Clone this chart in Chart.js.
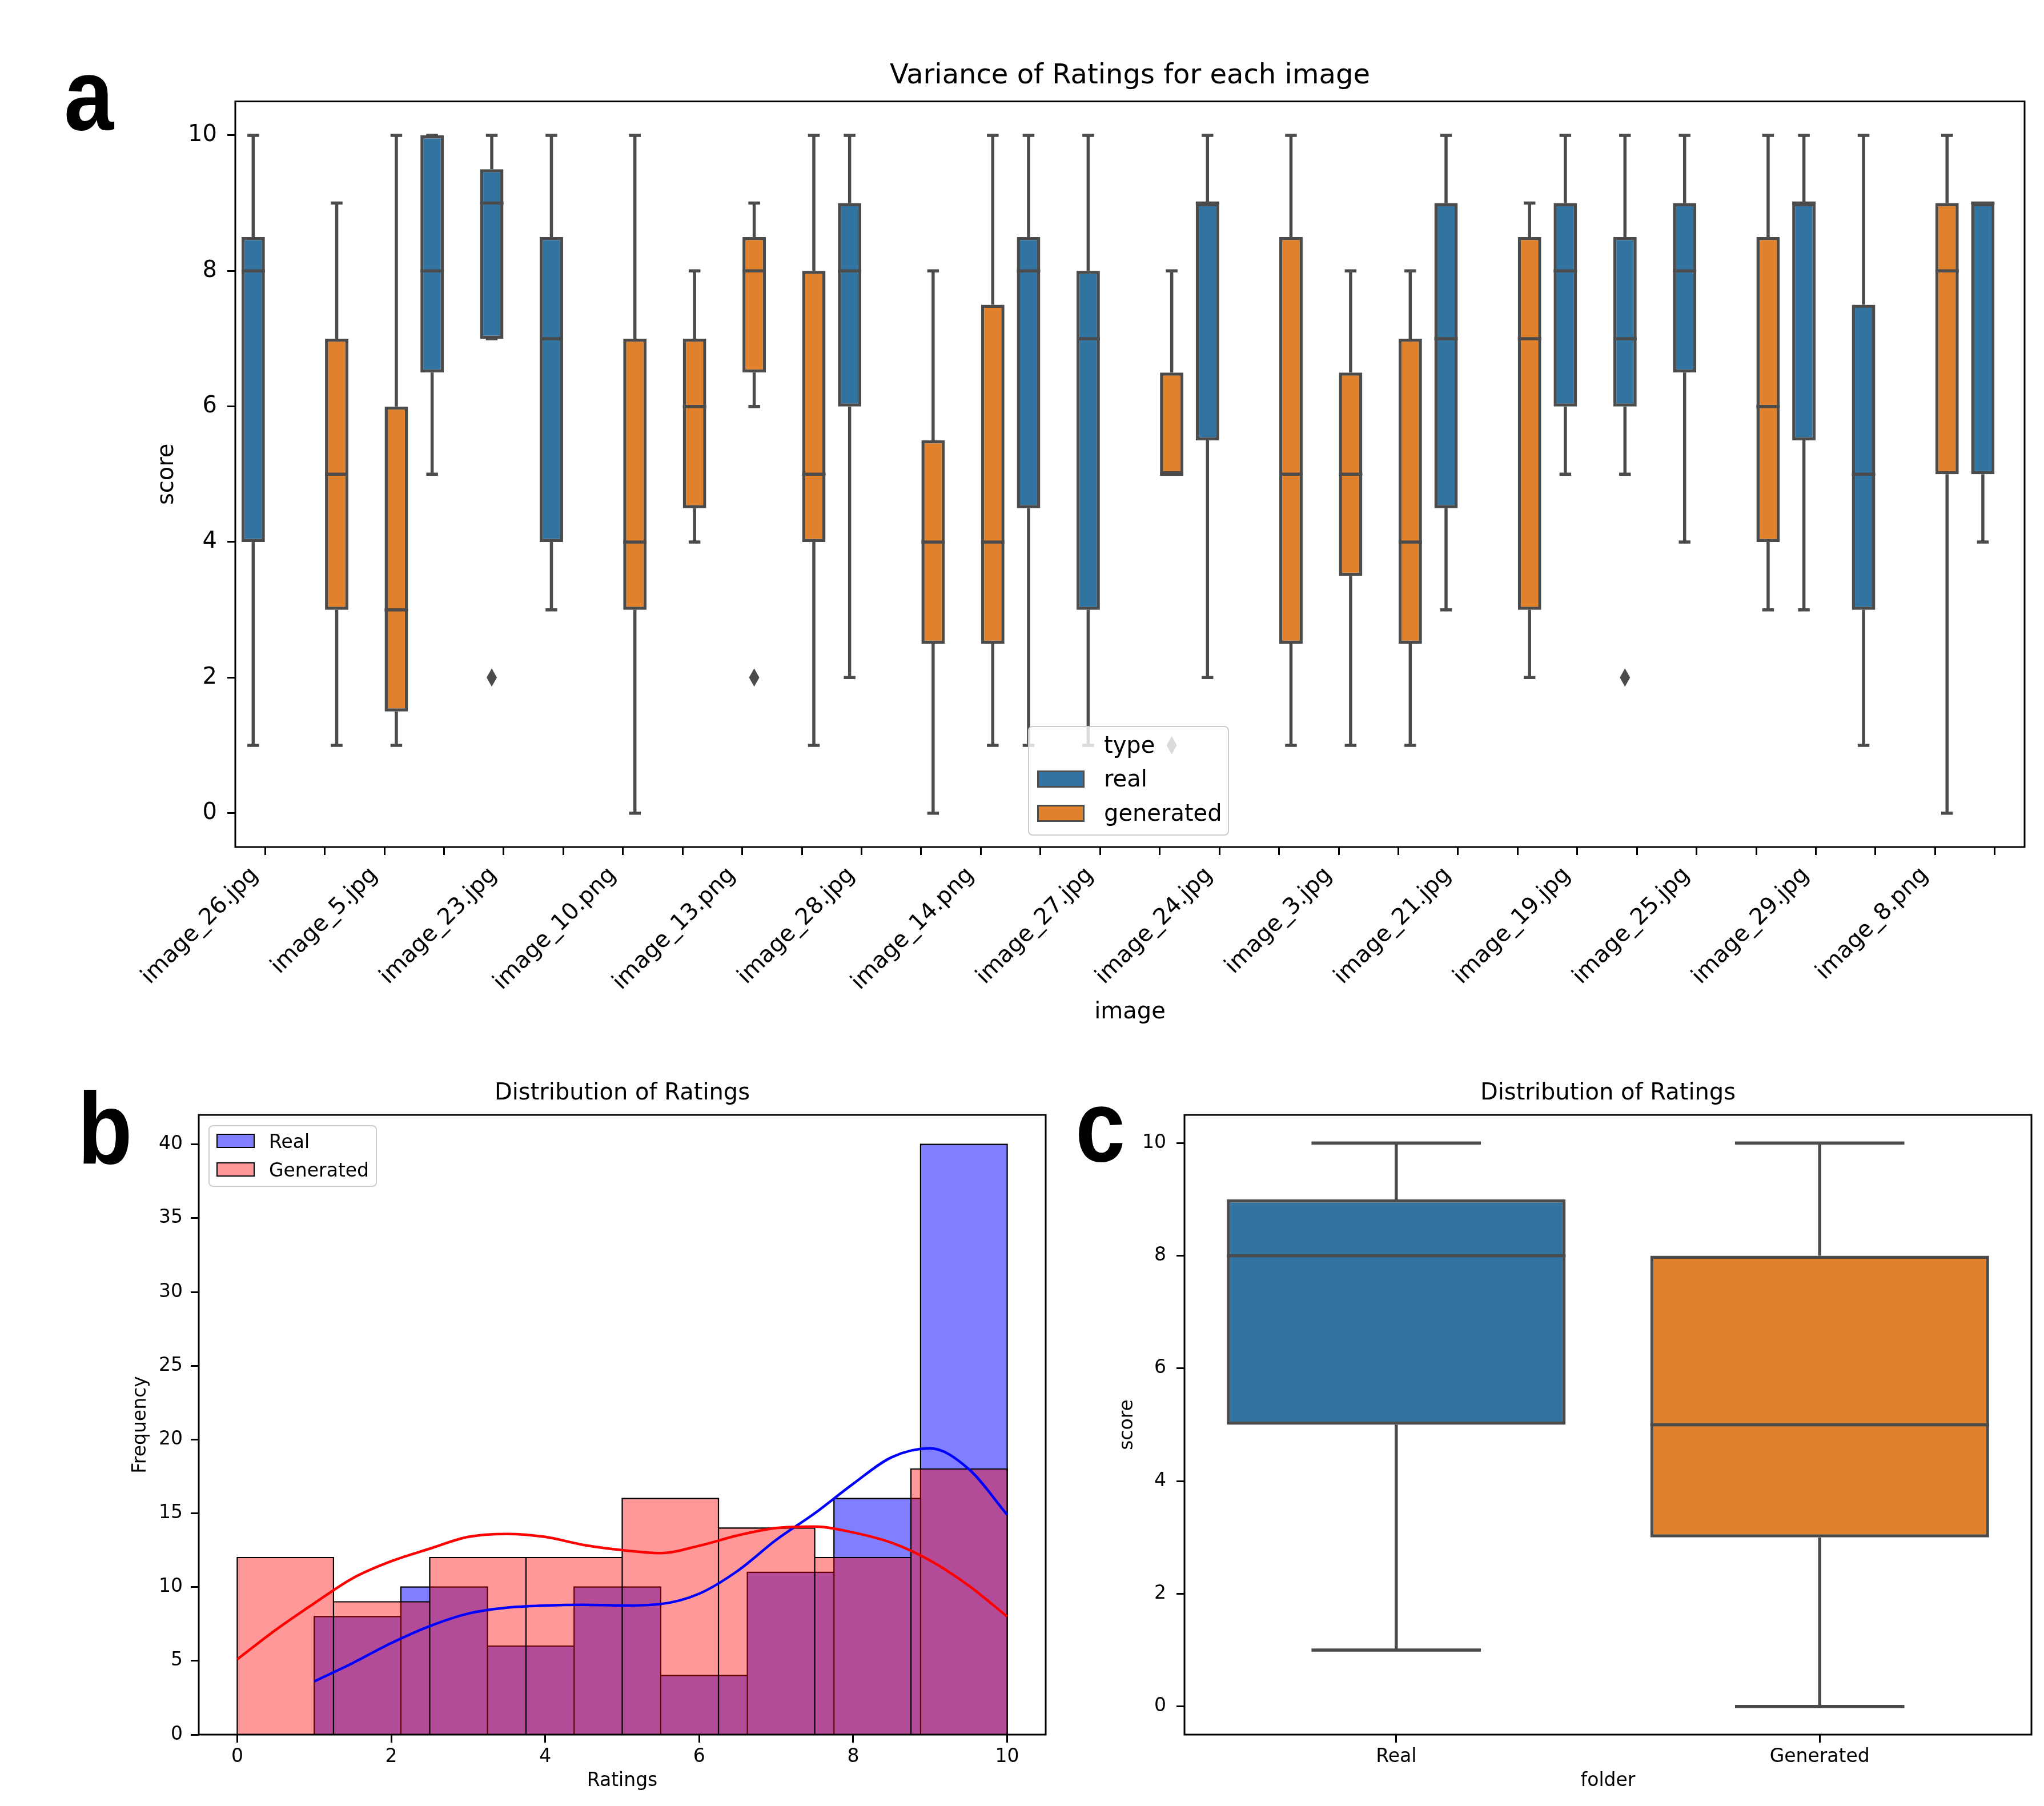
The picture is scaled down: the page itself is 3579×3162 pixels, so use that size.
<!DOCTYPE html>
<html>
<head>
<meta charset="UTF-8">
<title>Ratings figure</title>
<script src="https://cdn.jsdelivr.net/npm/chart.js@4"></script>
<style>
  body { margin: 0; background: #fff; font-family: 'DejaVu Sans', sans-serif; }
  #page { position: relative; width: 3579px; height: 3162px; overflow: hidden; background: #fff; }
  canvas { position: absolute; }
  .letter { position: absolute; font-family: 'Liberation Sans', Arial, sans-serif; font-weight: bold;
            font-size: 178px; line-height: 1; transform: scaleX(0.88); transform-origin: left top; color: #000; }
  .legend { position: absolute; background: rgba(255,255,255,0.8); border: 2px solid #cccccc;
            border-radius: 8px; box-sizing: border-box; }
  .legend span { position: absolute; white-space: nowrap; line-height: 1; color: #000; }
  .legend .sw { box-sizing: border-box; }
</style>
</head>
<body>
<div id="page">
  <canvas id="chartA" width="3579" height="1850" style="left:0;top:0"></canvas>
  <canvas id="chartB" width="1870" height="1312" style="left:0;top:1850px"></canvas>
  <canvas id="chartC" width="1709" height="1312" style="left:1870px;top:1850px"></canvas>

  <div class="letter" style="left:112px;top:77px">a</div>
  <div class="letter" style="left:136px;top:1887px">b</div>
  <div class="letter" style="left:1883px;top:1883px">c</div>

  <div class="legend" style="left:1800px;top:1271px;width:352px;height:192px;font-size:40px">
    <span style="left:131px;top:11px">type</span>
    <span class="sw" style="left:14px;top:76px;width:83px;height:30px;background:#3274a1;border:3px solid #4b4b4b"></span>
    <span style="left:131px;top:70px">real</span>
    <span class="sw" style="left:14px;top:136px;width:83px;height:30px;background:#e1812c;border:3px solid #4b4b4b"></span>
    <span style="left:131px;top:130px">generated</span>
  </div>

  <div class="legend" style="left:365px;top:1970px;width:295px;height:108px;font-size:33px">
    <span class="sw" style="left:12px;top:13px;width:67px;height:25px;background:rgba(0,0,255,0.5);border:2px solid #000"></span>
    <span style="left:104px;top:10px">Real</span>
    <span class="sw" style="left:12px;top:63px;width:67px;height:25px;background:rgba(255,0,0,0.4);border:2px solid #000"></span>
    <span style="left:104px;top:60px">Generated</span>
  </div>
</div>

<script>
// ---- panel a : one box per image, coloured by type ----
const imageLabels = ['image_26.jpg', '', 'image_5.jpg', '', 'image_23.jpg', '', 'image_10.png', '',
  'image_13.png', '', 'image_28.jpg', '', 'image_14.png', '', 'image_27.jpg', '', 'image_24.jpg', '',
  'image_3.jpg', '', 'image_21.jpg', '', 'image_19.jpg', '', 'image_25.jpg', '', 'image_29.jpg', '',
  'image_8.png', ''];
const imageType = ['real', 'generated', 'generated', 'real', 'real', 'real', 'generated', 'generated',
  'generated', 'generated', 'real', 'generated', 'generated', 'real', 'real', 'generated', 'real',
  'generated', 'generated', 'generated', 'real', 'generated', 'real', 'real', 'real', 'generated',
  'real', 'real', 'generated', 'real'];
const whiskerLow  = [1, 1, 1, 5, 7, 3, 0, 4, 6, 1, 2, 0, 1, 1, 1, 5, 2, 1, 1, 1, 3, 2, 5, 5, 4, 3, 3, 1, 0, 4];
const quart1      = [4, 3, 1.5, 6.5, 7, 4, 3, 4.5, 6.5, 4, 6, 2.5, 2.5, 4.5, 3, 5, 5.5, 2.5, 3.5, 2.5, 4.5, 3, 6, 6, 6.5, 4, 5.5, 3, 5, 5];
const medians     = [8, 5, 3, 8, 9, 7, 4, 6, 8, 5, 8, 4, 4, 8, 7, 5, 9, 5, 5, 4, 7, 7, 8, 7, 8, 6, 9, 5, 8, 9];
const quart3      = [8.5, 7, 6, 10, 9.5, 8.5, 7, 7, 8.5, 8, 9, 5.5, 7.5, 8.5, 8, 6.5, 9, 8.5, 6.5, 7, 9, 8.5, 9, 8.5, 9, 8.5, 9, 7.5, 9, 9];
const whiskerHigh = [10, 9, 10, 10, 10, 10, 10, 8, 9, 10, 10, 8, 10, 10, 10, 8, 10, 10, 8, 8, 10, 9, 10, 10, 10, 10, 10, 10, 10, 9];
const fliers = [[], [], [], [], [2], [], [], [], [2], [], [], [], [], [], [], [1], [], [], [], [], [], [], [], [2], [], [], [], [], [], []];
const scoreTicks = [0, 2, 4, 6, 8, 10];

// ---- panel b : histograms + kde ----
const realEdges  = [1, 2.125, 3.25, 4.375, 5.5, 6.625, 7.75, 8.875, 10];
const realCounts = [8, 10, 6, 10, 4, 11, 16, 40];
const genEdges   = [0, 1.25, 2.5, 3.75, 5, 6.25, 7.5, 8.75, 10];
const genCounts  = [12, 9, 12, 12, 16, 14, 12, 18];
const kdeRealX = [1, 1.5, 2, 2.5, 3, 3.5, 4, 4.5, 5, 5.5, 6, 6.5, 7, 7.5, 8, 8.5, 9, 9.5, 10];
const kdeRealY = [3.6, 4.85, 6.2, 7.35, 8.2, 8.6, 8.75, 8.8, 8.75, 8.85, 9.55, 11.1, 13.2, 15.0, 17.0, 18.8, 19.4, 18.0, 14.9];
const kdeGenX = [0, 0.5, 1, 1.5, 2, 2.5, 3, 3.5, 4, 4.5, 5, 5.5, 6, 6.5, 7, 7.5, 8, 8.5, 9, 9.5, 10];
const kdeGenY = [5.1, 7.1, 8.9, 10.6, 11.75, 12.6, 13.4, 13.6, 13.4, 12.85, 12.5, 12.3, 12.8, 13.5, 14.0, 14.1, 13.7, 13.0, 11.8, 10.1, 8.0];
const ratingTicks = [0, 2, 4, 6, 8, 10];
const freqTicks = [0, 5, 10, 15, 20, 25, 30, 35, 40];

// ---- panel c : overall boxes per folder ----
const folders      = ['Real', 'Generated'];
const folderLow    = [1, 0];
const folderQ1     = [5, 3];
const folderMedian = [8, 5];
const folderQ3     = [9, 8];
const folderHigh   = [10, 10];
const folderFliers = [[], []];

const realBlue = '#3274a1';
const genOrange = '#e1812c';
const edgeGray = '#4b4b4b';

Chart.defaults.font.family = "'DejaVu Sans', sans-serif";
Chart.defaults.color = '#000';

// whiskers, caps, medians and fliers on top of the floating bars
const boxParts = {
  id: 'boxParts',
  afterDatasetsDraw(chart) {
    const ctx = chart.ctx;
    const y = chart.scales.y;
    chart.data.datasets.forEach((ds, di) => {
      const st = ds.boxStats;
      if (!st) return;
      chart.getDatasetMeta(di).data.forEach((bar, i) => {
        if (ds.data[i] == null) return;
        const x = bar.x, half = bar.width / 2, cap = bar.width / 4;
        ctx.save();
        ctx.strokeStyle = edgeGray;
        ctx.lineWidth = ds.borderWidth;
        ctx.beginPath();
        ctx.moveTo(x, y.getPixelForValue(st.hi[i]));
        ctx.lineTo(x, y.getPixelForValue(st.q3[i]));
        ctx.moveTo(x, y.getPixelForValue(st.lo[i]));
        ctx.lineTo(x, y.getPixelForValue(st.q1[i]));
        ctx.moveTo(x - cap, y.getPixelForValue(st.hi[i]));
        ctx.lineTo(x + cap, y.getPixelForValue(st.hi[i]));
        ctx.moveTo(x - cap, y.getPixelForValue(st.lo[i]));
        ctx.lineTo(x + cap, y.getPixelForValue(st.lo[i]));
        ctx.moveTo(x - half, y.getPixelForValue(st.med[i]));
        ctx.lineTo(x + half, y.getPixelForValue(st.med[i]));
        ctx.stroke();
        ctx.fillStyle = edgeGray;
        st.fliers[i].forEach(v => {
          const py = y.getPixelForValue(v);
          ctx.beginPath();
          ctx.moveTo(x, py - 16);
          ctx.lineTo(x + 9, py);
          ctx.lineTo(x, py + 16);
          ctx.lineTo(x - 9, py);
          ctx.closePath();
          ctx.fill();
        });
        ctx.restore();
      });
    });
  }
};

// matplotlib style spines all round
const frame = {
  id: 'frame',
  afterDatasetsDraw(chart) {
    const { ctx, chartArea: a } = chart;
    ctx.save();
    ctx.strokeStyle = '#000';
    ctx.lineWidth = 3;
    ctx.strokeRect(a.left, a.top, a.right - a.left, a.bottom - a.top);
    ctx.restore();
  }
};

const fixedTicks = list => scale => { scale.ticks = list.map(v => ({ value: v })); };

function axis(fontSize, tickPad, titleText, titlePad, extra) {
  return Object.assign({
    grid: { drawOnChartArea: false, offset: false, tickLength: 14, tickWidth: 3, tickColor: '#000' },
    border: { display: false },
    ticks: { font: { size: fontSize }, color: '#000', padding: tickPad },
    title: { display: true, text: titleText, color: '#000', font: { size: fontSize }, padding: titlePad }
  }, extra);
}

const baseOptions = {
  animation: false,
  responsive: false,
  devicePixelRatio: 1,
  events: []
};

function histOutline(edges, counts) {
  const pts = [];
  counts.forEach((c, i) => {
    pts.push({ x: edges[i], y: 0 }, { x: edges[i], y: c }, { x: edges[i + 1], y: c }, { x: edges[i + 1], y: 0 });
  });
  return pts;
}

// ---------- chart a ----------
const statsA = { lo: whiskerLow, q1: quart1, med: medians, q3: quart3, hi: whiskerHigh, fliers: fliers };
const boxData = t => imageType.map((k, i) => (k === t ? [quart1[i], quart3[i]] : null));

new Chart(document.getElementById('chartA'), {
  type: 'bar',
  data: {
    labels: imageLabels,
    datasets: [
      { label: 'real', data: boxData('real'), backgroundColor: realBlue, borderColor: edgeGray,
        borderWidth: 5.5, borderSkipped: false, categoryPercentage: 0.8, barPercentage: 0.98, boxStats: statsA },
      { label: 'generated', data: boxData('generated'), backgroundColor: genOrange, borderColor: edgeGray,
        borderWidth: 5.5, borderSkipped: false, categoryPercentage: 0.8, barPercentage: 0.98, boxStats: statsA }
    ]
  },
  options: Object.assign({}, baseOptions, {
    layout: { padding: { left: 0, right: 34, top: 0, bottom: 0 } },
    plugins: {
      legend: { display: false },
      tooltip: { enabled: false },
      title: { display: true, text: 'Variance of Ratings for each image', fullSize: false,
               font: { size: 48, weight: 'normal' }, color: '#000', padding: { top: 105, bottom: 15 } }
    },
    scales: {
      x: axis(40, 6, 'image', { top: 0, bottom: 53 }, {
        offset: true,
        ticks: { font: { size: 40 }, color: '#000', padding: 12, labelOffset: -18,
                 autoSkip: false, minRotation: 45, maxRotation: 45 },
        afterFit: s => { s.height = 367; }
      }),
      y: axis(40, 18, 'score', { top: 269, bottom: 0 }, {
        min: -0.5, max: 10.5,
        afterBuildTicks: fixedTicks(scoreTicks),
        afterFit: s => { s.width = 412; }
      })
    }
  }),
  plugins: [boxParts, frame]
});

// ---------- chart b ----------
new Chart(document.getElementById('chartB'), {
  type: 'scatter',
  data: {
    datasets: [
      { label: 'Real', data: histOutline(realEdges, realCounts), showLine: true, fill: 'origin',
        backgroundColor: 'rgba(0,0,255,0.5)', borderColor: '#000', borderWidth: 2.2, borderJoinStyle: 'miter',
        pointRadius: 0, order: 3 },
      { label: 'Generated', data: histOutline(genEdges, genCounts), showLine: true, fill: 'origin',
        backgroundColor: 'rgba(255,0,0,0.4)', borderColor: '#000', borderWidth: 2.2, borderJoinStyle: 'miter',
        pointRadius: 0, order: 2 },
      { label: 'Real kde', data: kdeRealX.map((x, i) => ({ x: x, y: kdeRealY[i] })), showLine: true,
        fill: false, borderColor: '#0000ff', borderWidth: 4.5, pointRadius: 0, cubicInterpolationMode: 'monotone', order: 1 },
      { label: 'Generated kde', data: kdeGenX.map((x, i) => ({ x: x, y: kdeGenY[i] })), showLine: true,
        fill: false, borderColor: '#ff0000', borderWidth: 4.5, pointRadius: 0, cubicInterpolationMode: 'monotone', order: 0 }
    ]
  },
  options: Object.assign({}, baseOptions, {
    layout: { padding: { left: 0, right: 39, top: 0, bottom: 0 } },
    plugins: {
      legend: { display: false },
      tooltip: { enabled: false },
      title: { display: true, text: 'Distribution of Ratings', fullSize: false,
               font: { size: 40, weight: 'normal' }, color: '#000', padding: { top: 41, bottom: 13 } }
    },
    scales: {
      x: axis(33, 6, 'Ratings', { top: 0, bottom: 24 }, {
        type: 'linear', min: -0.5, max: 10.5,
        afterBuildTicks: fixedTicks(ratingTicks),
        afterFit: s => { s.height = 125; }
      }),
      y: axis(33, 14, 'Frequency', { top: 227, bottom: 0 }, {
        min: 0, max: 42,
        afterBuildTicks: fixedTicks(freqTicks),
        afterFit: s => { s.width = 348; }
      })
    }
  }),
  plugins: [frame]
});

// ---------- chart c ----------
const statsC = { lo: folderLow, q1: folderQ1, med: folderMedian, q3: folderQ3, hi: folderHigh, fliers: folderFliers };

new Chart(document.getElementById('chartC'), {
  type: 'bar',
  data: {
    labels: folders,
    datasets: [
      { label: 'score', data: folders.map((f, i) => [folderQ1[i], folderQ3[i]]),
        backgroundColor: [realBlue, genOrange], borderColor: edgeGray, borderWidth: 5.5, borderSkipped: false,
        categoryPercentage: 0.8, barPercentage: 1, boxStats: statsC }
    ]
  },
  options: Object.assign({}, baseOptions, {
    layout: { padding: { left: 0, right: 22, top: 0, bottom: 0 } },
    plugins: {
      legend: { display: false },
      tooltip: { enabled: false },
      title: { display: true, text: 'Distribution of Ratings', fullSize: false,
               font: { size: 40, weight: 'normal' }, color: '#000', padding: { top: 41, bottom: 13 } }
    },
    scales: {
      x: axis(33, 6, 'folder', { top: 0, bottom: 24 }, {
        offset: true,
        afterFit: s => { s.height = 125; }
      }),
      y: axis(33, 18, 'score', { top: 85, bottom: 0 }, {
        min: -0.5, max: 10.5,
        afterBuildTicks: fixedTicks(scoreTicks),
        afterFit: s => { s.width = 204; }
      })
    }
  }),
  plugins: [boxParts, frame]
});
</script>
</body>
</html>
